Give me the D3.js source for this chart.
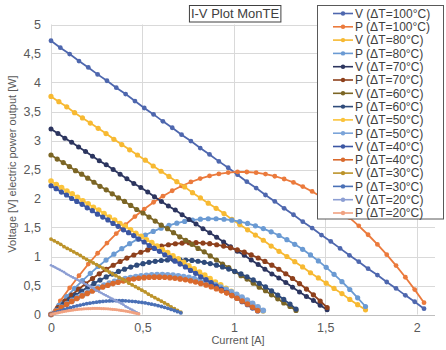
<!DOCTYPE html>
<html><head><meta charset="utf-8">
<script src="https://cdn.jsdelivr.net/npm/d3@7"></script>
<style>body{margin:0;background:#fff;} svg{display:block;font-family:"Liberation Sans",Arial,sans-serif;}</style>
</head><body><svg id="c" width="446" height="350"></svg>
<script>
// ---- data ----
const chartTitle = "I-V Plot MonTE";
const xTitle = "Current [A]";
const yTitle = "Voltage [V] electric power output [W]";
const xTicks = [0, 0.5, 1, 1.5, 2];
const yTicks = [0, 0.5, 1, 1.5, 2, 2.5, 3, 3.5, 4, 4.5, 5];
const deltaT = [100, 80, 70, 60, 50, 40, 30, 20];

const cur100 = [0,.051,.102,.153,.204,.255,.306,.357,.408,.459,.51,.561,.612,.663,.714,.765,.816,.867,.918,.969,1.02,1.071,1.122,1.173,1.224,1.275,1.326,1.377,1.428,1.479,1.53,1.581,1.632,1.683,1.734,1.785,1.836,1.887,1.938,1.989,2.04];
const volt100 = [4.72,4.60,4.49,4.37,4.26,4.14,4.03,3.91,3.80,3.68,3.56,3.45,3.33,3.22,3.10,2.99,2.87,2.76,2.64,2.53,2.41,2.29,2.18,2.06,1.95,1.83,1.72,1.60,1.49,1.37,1.26,1.14,1.02,0.91,0.79,0.68,0.56,0.45,0.33,0.22,0.10];
const pow100 = [0,.235,.458,.669,.869,1.056,1.232,1.396,1.549,1.689,1.818,1.935,2.040,2.134,2.216,2.285,2.344,2.390,2.424,2.447,2.458,2.457,2.445,2.421,2.384,2.336,2.277,2.205,2.122,2.027,1.920,1.802,1.671,1.529,1.375,1.209,1.032,.843,.642,.429,.204];

const cur80 = [0,.043,.086,.129,.172,.215,.258,.301,.344,.387,.43,.473,.516,.559,.602,.645,.688,.731,.774,.817,.86,.903,.946,.989,1.032,1.075,1.118,1.161,1.204,1.247,1.29,1.333,1.376,1.419,1.462,1.505,1.548,1.591,1.634,1.677,1.72];
const volt80 = [3.76,3.67,3.58,3.48,3.39,3.30,3.21,3.12,3.02,2.93,2.84,2.75,2.66,2.56,2.47,2.38,2.29,2.20,2.10,2.01,1.92,1.83,1.74,1.64,1.55,1.46,1.37,1.28,1.18,1.09,1.00,0.91,0.82,0.72,0.63,0.54,0.45,0.36,0.26,0.17,0.08];
const pow80 = [0,.158,.308,.449,.583,.710,.828,.938,1.040,1.135,1.221,1.300,1.371,1.433,1.488,1.535,1.574,1.605,1.628,1.644,1.651,1.651,1.642,1.626,1.602,1.570,1.529,1.481,1.426,1.362,1.290,1.210,1.123,1.027,.924,.813,.693,.566,.431,.288,.138];

const cur70 = [0,.038,.076,.113,.151,.189,.227,.264,.302,.340,.378,.415,.453,.491,.529,.566,.604,.642,.680,.717,.755,.793,.831,.868,.906,.944,.982,1.019,1.057,1.095,1.133,1.170,1.208,1.246,1.284,1.321,1.359,1.397,1.435,1.472,1.51];
const volt70 = [3.20,3.12,3.04,2.97,2.89,2.81,2.73,2.65,2.58,2.50,2.42,2.34,2.26,2.19,2.11,2.03,1.95,1.87,1.80,1.72,1.64,1.56,1.48,1.41,1.33,1.25,1.17,1.09,1.02,0.94,0.86,0.78,0.70,0.63,0.55,0.47,0.39,0.31,0.24,0.16,0.08];
const pow70 = [0,.118,.230,.336,.436,.530,.619,.701,.778,.849,.914,.973,1.026,1.073,1.114,1.149,1.179,1.203,1.220,1.232,1.238,1.238,1.232,1.221,1.203,1.180,1.150,1.115,1.074,1.027,.974,.915,.850,.780,.703,.621,.533,.439,.339,.233,.121];

const cur60 = [0,.034,.067,.101,.134,.168,.201,.235,.268,.302,.335,.369,.402,.436,.469,.503,.536,.570,.603,.637,.670,.704,.737,.771,.804,.838,.871,.905,.938,.972,1.005,1.039,1.072,1.106,1.139,1.173,1.206,1.240,1.273,1.307,1.34];
const volt60 = [2.75,2.68,2.62,2.55,2.48,2.42,2.35,2.28,2.21,2.15,2.08,2.01,1.95,1.88,1.81,1.75,1.68,1.61,1.54,1.48,1.41,1.34,1.28,1.21,1.14,1.08,1.01,0.94,0.87,0.81,0.74,0.67,0.61,0.54,0.47,0.41,0.34,0.27,0.20,0.14,0.07];
const pow60 = [0,.090,.175,.256,.333,.405,.472,.535,.593,.647,.697,.742,.782,.818,.850,.877,.899,.917,.931,.940,.945,.945,.940,.932,.918,.900,.878,.851,.820,.784,.744,.699,.650,.596,.538,.475,.408,.336,.260,.179,.094];

const cur50 = [0,.029,.058,.087,.116,.145,.174,.203,.232,.261,.29,.319,.348,.377,.406,.435,.464,.493,.522,.551,.58,.609,.638,.667,.696,.725,.754,.783,.812,.841,.87,.899,.928,.957,.986,1.015,1.044,1.073,1.102,1.131,1.16];
const volt50 = [2.30,2.24,2.19,2.13,2.08,2.02,1.96,1.91,1.85,1.80,1.74,1.68,1.63,1.57,1.52,1.46,1.40,1.35,1.29,1.24,1.18,1.12,1.07,1.01,0.96,0.90,0.84,0.79,0.73,0.68,0.62,0.56,0.51,0.45,0.40,0.34,0.28,0.23,0.17,0.12,0.06];
const pow50 = [0,.065,.127,.186,.241,.293,.342,.387,.430,.469,.505,.537,.567,.593,.615,.635,.651,.665,.674,.681,.684,.685,.681,.675,.665,.653,.636,.617,.594,.569,.539,.507,.471,.433,.390,.345,.296,.245,.190,.131,.070];

const cur40 = [0,.028,.057,.085,.113,.141,.170,.198,.226,.254,.283,.311,.339,.367,.396,.424,.452,.480,.509,.537,.565,.593,.622,.650,.678,.706,.735,.763,.791,.819,.848,.876,.904,.932,.961,.989,1.017,1.045,1.074,1.102,1.13];
const volt40 = [2.22,2.17,2.11,2.06,2.00,1.95,1.90,1.84,1.79,1.73,1.68,1.63,1.57,1.52,1.46,1.41,1.36,1.30,1.25,1.19,1.14,1.09,1.03,0.98,0.92,0.87,0.82,0.76,0.71,0.65,0.60,0.55,0.49,0.44,0.38,0.33,0.28,0.22,0.17,0.11,0.06];
const pow40 = [0,.061,.119,.174,.226,.275,.321,.364,.404,.441,.475,.505,.533,.557,.579,.597,.613,.625,.635,.641,.644,.644,.641,.635,.626,.614,.599,.581,.560,.536,.509,.478,.445,.408,.369,.326,.281,.232,.180,.126,.068];

const cur30 = [0,.018,.036,.053,.071,.089,.107,.124,.142,.160,.178,.195,.213,.231,.249,.266,.284,.302,.320,.337,.355,.373,.391,.408,.426,.444,.462,.479,.497,.515,.533,.550,.568,.586,.604,.621,.639,.657,.675,.692,.71];
const volt30 = [1.30,1.27,1.24,1.21,1.17,1.14,1.11,1.08,1.05,1.02,0.98,0.95,0.92,0.89,0.86,0.83,0.80,0.76,0.73,0.70,0.67,0.64,0.61,0.58,0.54,0.51,0.48,0.45,0.42,0.39,0.35,0.32,0.29,0.26,0.23,0.20,0.17,0.13,0.10,0.07,0.04];
const pow30 = [0,.023,.044,.064,.083,.101,.118,.134,.149,.162,.175,.186,.196,.206,.213,.220,.226,.231,.234,.237,.238,.238,.237,.235,.232,.227,.222,.215,.208,.199,.189,.178,.166,.153,.138,.123,.106,.088,.069,.049,.028];

const cur20 = [0,.012,.024,.036,.048,.06,.072,.084,.096,.108,.12,.132,.144,.156,.168,.18,.192,.204,.216,.228,.24,.252,.264,.276,.288,.30,.312,.324,.336,.348,.36,.372,.384,.396,.408,.42,.432,.444,.456,.468,.48];
const volt20 = [0.85,0.83,0.81,0.79,0.77,0.75,0.73,0.70,0.68,0.66,0.64,0.62,0.60,0.58,0.56,0.54,0.52,0.50,0.48,0.46,0.43,0.41,0.39,0.37,0.35,0.33,0.31,0.29,0.27,0.25,0.23,0.21,0.19,0.17,0.14,0.12,0.10,0.08,0.06,0.04,0.02];
const pow20 = [0,.010,.019,.028,.037,.045,.052,.059,.066,.072,.077,.082,.087,.091,.094,.097,.099,.101,.103,.104,.104,.104,.104,.103,.101,.099,.097,.094,.090,.086,.082,.077,.071,.065,.059,.052,.045,.037,.028,.019,.010];

// ---- styles ----
const seriesColors = ["#4e67ae","#eb7a3c","#f7b932","#6a9ad3","#2c355f","#8e401c","#7c6625","#2f4b7b",
                      "#fbc33a","#7ba4d9","#3b56a3","#d96a2d","#bc932a","#4a70b6","#8c9ed3","#f1a281"];
const markerR = [2.4,2.4,2.6,2.6,2.5,2.6,2.6,2.6,2.8,3.0,2.6,2.8,1.9,1.9,1.3,1.6];

const dataSets = {
  100:[cur100,volt100,pow100], 80:[cur80,volt80,pow80], 70:[cur70,volt70,pow70], 60:[cur60,volt60,pow60],
  50:[cur50,volt50,pow50], 40:[cur40,volt40,pow40], 30:[cur30,volt30,pow30], 20:[cur20,volt20,pow20]
};
const series = [];
deltaT.forEach(t => {
  const [c, v, p] = dataSets[t];
  series.push({name: "V (ΔT=" + t + "°C)", pts: c.map((ci, i) => [ci, v[i]])});
  series.push({name: "P (ΔT=" + t + "°C)", pts: c.map((ci, i) => [ci, p[i]])});
});
series.forEach((s, i) => { s.color = seriesColors[i]; s.r = markerR[i]; });

// ---- chart ----
const svg = d3.select("#c");
const x = d3.scaleLinear().domain([0, 2.1]).range([51, 435]);
const y = d3.scaleLinear().domain([0, 5]).range([314.5, 24.5]);

const grid = svg.append("g");
grid.selectAll(".hy").data(yTicks.filter(d => d > 0)).join("line")
  .attr("x1", x(0)).attr("x2", x(2.1)).attr("y1", d => Math.round(y(d)) + 0.5).attr("y2", d => Math.round(y(d)) + 0.5)
  .attr("stroke", "#d9d9d9").attr("stroke-width", 1);
grid.selectAll(".vx").data(xTicks).join("line")
  .attr("y1", y(0)).attr("y2", y(5)).attr("x1", d => Math.round(x(d)) + 0.5).attr("x2", d => Math.round(x(d)) + 0.5)
  .attr("stroke", "#d9d9d9").attr("stroke-width", 1);
svg.append("line").attr("x1", x(0)).attr("x2", x(2.1)).attr("y1", Math.round(y(0)) + 0.5).attr("y2", Math.round(y(0)) + 0.5)
  .attr("stroke", "#bfbfbf").attr("stroke-width", 1);

const fmt = d => String(d).replace(".", ",");
const xAxis = d3.axisBottom(x).tickValues(xTicks).tickFormat(fmt).tickSize(0).tickPadding(9);
const gx = svg.append("g").attr("transform", `translate(0,${y(0)})`).call(xAxis);
gx.select(".domain").remove();
gx.selectAll("text").attr("fill", "#595959").style("font-size", "12.5px").style("font-family", "Liberation Sans, Arial, sans-serif");

const yAxis = d3.axisLeft(y).tickValues(yTicks).tickFormat(fmt).tickSize(0).tickPadding(10);
const gy = svg.append("g").attr("transform", `translate(${x(0)},0)`).call(yAxis);
gy.select(".domain").remove();
gy.selectAll("text").attr("fill", "#595959").style("font-size", "12.5px").style("font-family", "Liberation Sans, Arial, sans-serif");

svg.append("text").attr("x", 238).attr("y", 344).attr("text-anchor", "middle")
  .attr("fill", "#595959").style("font-size", "11px").text(xTitle);
svg.append("text").attr("transform", "translate(16,164) rotate(-90)").attr("text-anchor", "middle")
  .attr("fill", "#595959").style("font-size", "11px").text(yTitle);

const line = d3.line().x(d => x(d[0])).y(d => y(d[1]));
const sg = svg.append("g");
series.forEach(s => {
  const g = sg.append("g");
  g.append("path").attr("d", line(s.pts)).attr("fill", "none").attr("stroke", s.color).attr("stroke-width", 1.8);
  g.selectAll("circle").data(s.pts).join("circle")
    .attr("cx", d => x(d[0])).attr("cy", d => y(d[1])).attr("r", s.r).attr("fill", s.color);
});

// title
const tg = svg.append("g");
const tt = tg.append("text").attr("x", 235).attr("y", 18).attr("text-anchor", "middle")
  .attr("fill", "#404040").style("font-size", "13px").text(chartTitle);
const bb = tt.node().getBBox();
tg.append("rect").attr("x", bb.x - 1.5).attr("y", 5.5).attr("width", bb.width + 3).attr("height", 16.5)
  .attr("fill", "#fff").attr("stroke", "#404040").attr("stroke-width", 1);
tt.raise();

// legend
const lg = svg.append("g");
lg.append("rect").attr("x", 317.5).attr("y", 5.5).attr("width", 126).attr("height", 213.5)
  .attr("fill", "#fff").attr("stroke", "#595959").attr("stroke-width", 1);
series.forEach((s, i) => {
  const cy = 13.5 + i * 13.3;
  lg.append("line").attr("x1", 333).attr("x2", 353).attr("y1", cy).attr("y2", cy).attr("stroke", s.color).attr("stroke-width", 1.6);
  lg.append("circle").attr("cx", 343).attr("cy", cy).attr("r", 2.2).attr("fill", s.color);
  lg.append("text").attr("x", 355).attr("y", cy + 4.3).attr("fill", "#404040").style("font-size", "12px").text(s.name);
});
</script>
</body></html>
